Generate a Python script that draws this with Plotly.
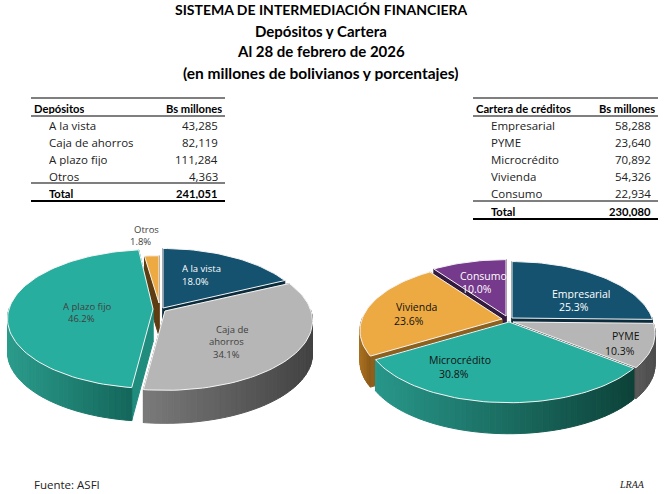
import math
import plotly.graph_objects as go

# ---- data ----
dep_names = ["A la vista", "Caja de ahorros", "A plazo fijo", "Otros"]
dep_values = [43285, 82119, 111284, 4363]
car_names = ["Empresarial", "PYME", "Microcrédito", "Vivienda", "Consumo"]
car_values = [58288, 23640, 70892, 54326, 22934]
titles = ["SISTEMA DE INTERMEDIACIÓN FINANCIERA", "Depósitos y Cartera",
          "Al 28 de febrero de 2026", "(en millones de bolivianos y porcentajes)"]

# ---- style / geometry ----
BLUE, GRAY, TEAL, ORANGE, PURPLE = "#15526f", "#b5b6b5", "#28ae9e", "#edaa42", "#763a8c"
W, H = 665, 494
BODY = "Open Sans"
HEAD = "Lato"

left_style = [
    dict(top=BLUE, wall="#0b2c3c", rim=("#0f3c52", "#0b2c3c"), a=(163, 308), R=143, Ry=68),
    dict(top=GRAY, wall="#555555", rim=("#7a7a7a", "#424242"), a=(165, 311), R=146, Ry=68),
    dict(top=TEAL, wall="#1f8c7e", rim=("#2b9c8c", "#13665a"), a=(153, 309), R=144, Ry=68),
    dict(top=ORANGE, wall="#5e3d12", rim=("#9a6a20", "#8a5a18"), a=(159, 303), R=146, Ry=54),
]
right_style = [
    dict(top=BLUE, wall="#0b2c3c", rim=("#0f3c52", "#0b2c3c"), a=(512, 318), R=140, Ry=66),
    dict(top=GRAY, wall="#4f4f4f", rim=("#5a5a5a", "#4c4c4c"), a=(513, 322), R=140, Ry=66),
    dict(top=TEAL, wall="#0e4840", rim=("#28978a", "#0d4239"), a=(509, 322), R=142, Ry=67),
    dict(top=ORANGE, wall="#8f5f1c", rim=("#a87020", "#8a5a18"), a=(502, 319), R=140, Ry=66),
    dict(top=PURPLE, wall="#331a40", rim=("#4a2458", "#331a40"), a=(506, 316), R=140, Ry=66),
]


def mix(c1, c2, t):
    a = [int(c1[i:i + 2], 16) for i in (1, 3, 5)]
    b = [int(c2[i:i + 2], 16) for i in (1, 3, 5)]
    return "rgb(%d,%d,%d)" % tuple(round(a[i] + (b[i] - a[i]) * t) for i in range(3))


def proj(st, theta, p):
    u, v = math.sin(theta), -math.cos(theta)
    s = 1 / (1 - p * v)
    return st["a"][0] + st["R"] * u * s, st["a"][1] + st["Ry"] * v * s


traces = []


def poly(xs, ys, fill, line=None, lw=1.0):
    traces.append(go.Scatter(x=xs, y=ys, mode="lines", fill="toself", fillcolor=fill,
                             line=dict(color=line or fill, width=lw), hoverinfo="skip",
                             showlegend=False))


def pie3d(values, styles, depth, p):
    total = sum(values)
    spans, acc = [], 0.0
    for v in values:
        spans.append((acc / total * 2 * math.pi, (acc + v) / total * 2 * math.pi))
        acc += v
    order = sorted(range(len(values)),
                   key=lambda i: -math.cos((spans[i][0] + spans[i][1]) / 2))
    for i in order:
        a0, a1 = spans[i]
        st = styles[i]
        ax, ay = st["a"]
        n = max(3, int((a1 - a0) / math.radians(2)))
        ang = [a0 + (a1 - a0) * k / n for k in range(n + 1)]
        pts = [proj(st, t, p) for t in ang]
        # radial walls
        for (ex, ey) in (pts[0], pts[-1]):
            poly([ax, ex, ex, ax, ax], [ay, ey, ey + depth, ay + depth, ay], st["wall"])
        # outer rim, shaded left to right
        vis = [k for k in range(n) if -math.cos((ang[k] + ang[k + 1]) / 2) > -0.02]
        if vis:
            xmin = min(min(pts[k][0], pts[k + 1][0]) for k in vis)
            xmax = max(max(pts[k][0], pts[k + 1][0]) for k in vis)
            for k in vis:
                (x0, y0), (x1, y1) = pts[k], pts[k + 1]
                t = ((x0 + x1) / 2 - xmin) / max(1, xmax - xmin)
                poly([x0, x1, x1, x0, x0], [y0, y1, y1 + depth, y0 + depth, y0],
                     mix(st["rim"][0], st["rim"][1], t))
        # top face
        poly([ax] + [q[0] for q in pts] + [ax], [ay] + [q[1] for q in pts] + [ay],
             st["top"], "#f4f4f4", 1.0)


pie3d(dep_values, left_style, 33, 0.143)
pie3d(car_values, right_style, 31, 0.17)

ann = []


def text(x, y, s, size=11, color="#222222", font=BODY, bold=False, anchor="left", italic=False):
    if bold:
        s = f"<b>{s}</b>"
    if italic:
        s = f"<i>{s}</i>"
    ann.append(dict(x=x, y=y, xref="x", yref="y", text=s, showarrow=False, xanchor=anchor,
                    yanchor="middle", align=anchor, borderpad=0, borderwidth=0,
                    height=round(size) + 1,
                    font=dict(size=size, color=color, family=font)))


for s, y, sz in zip(titles, [9, 31, 51, 72], [14, 15, 15, 15.5]):
    text(321, y, s, sz, "#000000", HEAD, True, "center")


def pct(v, vals):
    return f"{v / sum(vals) * 100:.1f}%"


def table(x0, x1, head, names, values, tx, rx, hrx, rows_y, size=11.5):
    text(x0 + 3, 108, head, 11.2, "#000000", HEAD, True)
    text(hrx, 108, "Bs millones", 11.2, "#000000", HEAD, True, "right")
    for n, v, y in zip(names, values, rows_y):
        text(tx, y, n, size, "#222222")
        text(rx, y, f"{v:,}", size, "#222222", anchor="right")
    yt = rows_y[len(names)]
    text(tx, yt, "Total", 11.2, "#000000", HEAD, True)
    text(rx, yt, f"{sum(values):,}", 11.2, "#000000", HEAD, True, "right")


table(31, 225, "Depósitos", dep_names, dep_values, 49, 218, 222, [125, 142, 159, 176, 193])
table(473, 658, "Cartera de créditos", car_names, car_values, 491, 651, 655,
      [125, 142, 159, 176, 193, 211])

shapes = []
for x0, x1, y, w in [(31, 225, 98, 1.2), (31, 225, 116, 1.2), (31, 225, 183, 1.2), (31, 225, 201, 2.2),
                     (473, 658, 98, 1.2), (473, 658, 116, 1.2), (473, 658, 201, 1.2), (473, 658, 219, 2.2)]:
    shapes.append(dict(type="line", x0=x0, x1=x1, y0=y, y1=y, xref="x", yref="y",
                       line=dict(color="#000000", width=w)))

# slice labels
LS = 9.5
for name, v, (nx, ny, px, py), col in [
    ("A la vista", dep_values[0], (201, 268, 195, 281), "#ffffff"),
    ("A plazo fijo", dep_values[2], (87, 306, 81, 318), "#404040"),
    ("Otros", dep_values[3], (146, 229, 140, 241), "#404040"),
]:
    text(nx, ny, name, LS, col, anchor="center")
    text(px, py, pct(v, dep_values), LS, col, anchor="center")
text(232, 329, "Caja de", LS, "#404040", anchor="center")
text(226, 341, "ahorros", LS, "#404040", anchor="center")
text(226, 354, pct(dep_values[1], dep_values), LS, "#404040", anchor="center")

LR = 10.5
for name, v, (nx, ny, px, py), col in [
    ("Empresarial", car_values[0], (581, 293, 574, 306), "#ffffff"),
    ("PYME", car_values[1], (626, 335, 620, 350), "#111111"),
    ("Microcrédito", car_values[2], (460, 359, 454, 373), "#111111"),
    ("Vivienda", car_values[3], (416, 306, 409, 320), "#111111"),
    ("Consumo", car_values[4], (483, 275, 477, 288), "#ffffff"),
]:
    text(nx, ny, name, LR, col, anchor="center")
    text(px, py, pct(v, car_values), LR, col, anchor="center")

text(34, 484, "Fuente: ASFI", 11.5, "#222222")
text(632, 484, "LRAA", 10, "#222222", "Liberation Serif", False, "center", True)

fig = go.Figure(traces)
fig.update_layout(width=W, height=H, margin=dict(l=0, r=0, t=0, b=0), paper_bgcolor="white",
                  plot_bgcolor="white", showlegend=False, annotations=ann, shapes=shapes,
                  xaxis=dict(range=[0, W], visible=False, fixedrange=True),
                  yaxis=dict(range=[H, 0], visible=False, fixedrange=True))
fig.write_html("out.html", post_script="document.body.style.margin='0';", config={"displayModeBar": False})
